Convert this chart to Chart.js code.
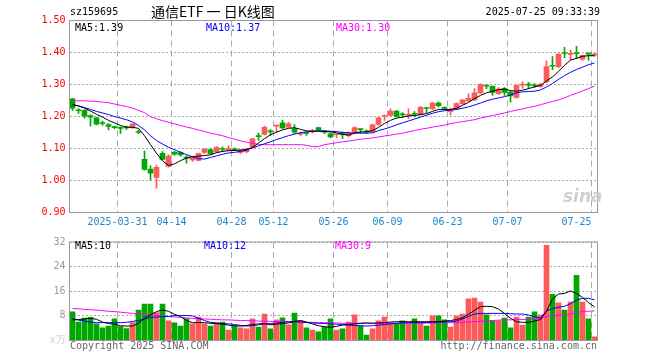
<!DOCTYPE html>
<html>
<head>
<meta charset="utf-8">
<script src="https://cdn.jsdelivr.net/npm/chart.js@4.4.1/dist/chart.umd.min.js"></script>
<style>
body { margin: 0; background: #fff; width: 660px; height: 360px; overflow: hidden; position: relative; }
canvas { position: absolute; left: 0; }
#k { top: 0; }
#v { top: 232px; }
.t { position: absolute; font: 10px "DejaVu Sans Mono", monospace; line-height: 12px; white-space: nowrap; z-index: 2; }
</style>
</head>
<body>
<canvas id="k" width="660" height="232"></canvas>
<canvas id="v" width="660" height="128"></canvas>

<div class="t" style="left:70px;top:6px;">sz159695</div>
<div class="t" style="left:151px;top:2px;font:14px 'Noto Sans CJK SC';line-height:18px;">通信ETF 一 日K线图</div>
<div class="t" style="right:60px;top:6px;">2025-07-25 09:33:39</div>

<div class="t" style="left:75px;top:22px;color:#000;">MA5:1.39</div>
<div class="t" style="left:206px;top:22px;color:#0000ff;">MA10:1.37</div>
<div class="t" style="left:336px;top:22px;color:#ff00ff;">MA30:1.30</div>

<div class="t" style="left:75px;top:240px;color:#000;">MA5:10</div>
<div class="t" style="left:204px;top:240px;color:#0000ff;">MA10:12</div>
<div class="t" style="left:335px;top:240px;color:#ff00ff;">MA30:9</div>

<div class="t" style="left:563px;top:186px;font:italic bold 17px 'DejaVu Sans';line-height:20px;color:#cfcfcf;z-index:1;">sina</div>

<div class="t" style="left:70px;top:340px;color:#666;">Copyright 2025 SINA.COM</div>
<div class="t" style="right:63px;top:340px;color:#666;">http://finance.sina.com.cn</div>

<script>
// date ticks (bar index -> label)
const tickIdx = [0, 8, 17, 27, 34, 44, 53, 63, 73, 87];
const tickLabels = ['', '2025-03-31', '04-14', '04-28', '05-12', '05-26', '06-09', '06-23', '07-07', '07-25'];

// daily K line, 2025-03-19 .. 2025-07-25
const openP = [1.255, 1.220, 1.219, 1.203, 1.196, 1.181, 1.175, 1.168, 1.166, 1.166,
    1.165, 1.153, 1.066, 1.036, 1.010, 1.085, 1.044, 1.088, 1.087, 1.072,
    1.064, 1.063, 1.088, 1.097, 1.089, 1.099, 1.095, 1.098, 1.088, 1.090,
    1.104, 1.139, 1.144, 1.155, 1.170, 1.180, 1.167, 1.162, 1.145, 1.149,
    1.152, 1.165, 1.153, 1.146, 1.143, 1.150, 1.140, 1.150, 1.161, 1.155,
    1.152, 1.175, 1.200, 1.203, 1.217, 1.207, 1.204, 1.209, 1.206, 1.228,
    1.224, 1.242, 1.229, 1.216, 1.224, 1.240, 1.249, 1.252, 1.274, 1.297,
    1.294, 1.271, 1.287, 1.276, 1.260, 1.298, 1.300, 1.298, 1.294, 1.309,
    1.359, 1.356, 1.400, 1.394, 1.398, 1.379, 1.397, 1.392];
const highP = [1.257, 1.225, 1.222, 1.205, 1.198, 1.186, 1.178, 1.170, 1.168, 1.170,
    1.178, 1.158, 1.092, 1.046, 1.048, 1.090, 1.080, 1.092, 1.090, 1.078,
    1.075, 1.086, 1.100, 1.099, 1.106, 1.105, 1.108, 1.101, 1.097, 1.101,
    1.132, 1.148, 1.170, 1.159, 1.173, 1.188, 1.182, 1.175, 1.152, 1.153,
    1.160, 1.167, 1.156, 1.149, 1.147, 1.152, 1.152, 1.168, 1.161, 1.158,
    1.176, 1.198, 1.205, 1.224, 1.219, 1.212, 1.224, 1.215, 1.232, 1.229,
    1.244, 1.246, 1.230, 1.226, 1.243, 1.254, 1.271, 1.287, 1.302, 1.298,
    1.296, 1.290, 1.290, 1.279, 1.299, 1.308, 1.307, 1.303, 1.303, 1.374,
    1.387, 1.397, 1.416, 1.408, 1.419, 1.393, 1.398, 1.398];
const lowP = [1.219, 1.210, 1.195, 1.170, 1.174, 1.172, 1.158, 1.162, 1.147, 1.160,
    1.163, 1.146, 1.032, 1.001, 0.976, 1.064, 1.042, 1.078, 1.076, 1.054,
    1.060, 1.061, 1.085, 1.082, 1.087, 1.090, 1.093, 1.093, 1.083, 1.086,
    1.102, 1.125, 1.142, 1.141, 1.151, 1.162, 1.165, 1.146, 1.140, 1.141,
    1.148, 1.155, 1.146, 1.134, 1.134, 1.131, 1.136, 1.148, 1.147, 1.147,
    1.150, 1.172, 1.188, 1.200, 1.198, 1.197, 1.193, 1.200, 1.204, 1.211,
    1.222, 1.229, 1.222, 1.205, 1.222, 1.238, 1.247, 1.250, 1.272, 1.287,
    1.266, 1.269, 1.266, 1.245, 1.257, 1.288, 1.288, 1.290, 1.292, 1.306,
    1.346, 1.352, 1.384, 1.377, 1.381, 1.375, 1.375, 1.388];
const closeP = [1.226, 1.218, 1.201, 1.198, 1.176, 1.178, 1.169, 1.165, 1.163, 1.164,
    1.176, 1.150, 1.035, 1.023, 1.041, 1.066, 1.076, 1.082, 1.080, 1.070,
    1.072, 1.084, 1.098, 1.084, 1.104, 1.097, 1.100, 1.096, 1.095, 1.098,
    1.130, 1.137, 1.166, 1.152, 1.172, 1.164, 1.177, 1.151, 1.147, 1.147,
    1.154, 1.157, 1.151, 1.136, 1.146, 1.144, 1.150, 1.165, 1.159, 1.152,
    1.174, 1.196, 1.203, 1.217, 1.200, 1.205, 1.207, 1.207, 1.229, 1.225,
    1.242, 1.234, 1.225, 1.222, 1.240, 1.252, 1.257, 1.274, 1.300, 1.295,
    1.275, 1.286, 1.275, 1.264, 1.297, 1.300, 1.298, 1.296, 1.301, 1.356,
    1.357, 1.395, 1.397, 1.397, 1.396, 1.391, 1.395, 1.393];

// price moving averages as drawn
const ma5 = [1.237, 1.233, 1.226, 1.217, 1.207, 1.198, 1.188, 1.180, 1.172, 1.167,
    1.166, 1.163, 1.140, 1.112, 1.085, 1.062, 1.047, 1.052, 1.062, 1.070,
    1.075, 1.076, 1.078, 1.080, 1.087, 1.091, 1.093, 1.094, 1.095, 1.097,
    1.103, 1.117, 1.131, 1.143, 1.151, 1.158, 1.163, 1.165, 1.160, 1.155,
    1.154, 1.154, 1.153, 1.152, 1.149, 1.144, 1.142, 1.148, 1.152, 1.152,
    1.156, 1.166, 1.178, 1.188, 1.195, 1.198, 1.202, 1.203, 1.206, 1.209,
    1.216, 1.222, 1.222, 1.222, 1.226, 1.235, 1.244, 1.256, 1.266, 1.274,
    1.279, 1.284, 1.286, 1.281, 1.279, 1.282, 1.287, 1.293, 1.297, 1.311,
    1.324, 1.341, 1.360, 1.376, 1.382, 1.388, 1.390, 1.390];
const ma10 = [1.237, 1.233, 1.228, 1.222, 1.216, 1.211, 1.206, 1.200, 1.195, 1.190,
    1.183, 1.172, 1.158, 1.140, 1.125, 1.114, 1.104, 1.096, 1.088, 1.081,
    1.074, 1.068, 1.067, 1.072, 1.077, 1.082, 1.086, 1.088, 1.091, 1.095,
    1.102, 1.108, 1.115, 1.121, 1.128, 1.134, 1.140, 1.145, 1.149, 1.152,
    1.154, 1.155, 1.155, 1.154, 1.153, 1.150, 1.149, 1.148, 1.148, 1.148,
    1.149, 1.156, 1.161, 1.167, 1.174, 1.180, 1.186, 1.192, 1.198, 1.204,
    1.210, 1.215, 1.218, 1.220, 1.222, 1.226, 1.230, 1.236, 1.242, 1.249,
    1.254, 1.258, 1.262, 1.267, 1.274, 1.277, 1.278, 1.279, 1.283, 1.292,
    1.303, 1.316, 1.328, 1.338, 1.347, 1.354, 1.362, 1.367];
const ma30 = [1.249, 1.249, 1.249, 1.248, 1.247, 1.245, 1.243, 1.239, 1.235, 1.231,
    1.226, 1.219, 1.212, 1.199, 1.193, 1.187, 1.182, 1.177, 1.172, 1.167,
    1.163, 1.158, 1.153, 1.148, 1.144, 1.140, 1.134, 1.129, 1.124, 1.120,
    1.116, 1.113, 1.112, 1.112, 1.112, 1.112, 1.112, 1.112, 1.112, 1.110,
    1.106, 1.106, 1.112, 1.115, 1.118, 1.121, 1.123, 1.126, 1.129, 1.131,
    1.133, 1.136, 1.139, 1.142, 1.145, 1.148, 1.152, 1.156, 1.160, 1.163,
    1.167, 1.170, 1.173, 1.178, 1.181, 1.184, 1.187, 1.190, 1.195, 1.199,
    1.203, 1.207, 1.211, 1.216, 1.220, 1.224, 1.228, 1.232, 1.237, 1.242,
    1.247, 1.252, 1.258, 1.266, 1.273, 1.280, 1.287, 1.295];

// volume (x万) and its averages
const volume = [9.3, 6.0, 7.3, 7.5, 5.4, 4.1, 4.7, 7.0, 4.5, 3.9,
    5.8, 9.9, 11.8, 11.8, 9.1, 11.8, 6.4, 5.7, 4.7, 7.1,
    5.4, 7.6, 5.4, 4.7, 5.7, 6.0, 3.4, 4.7, 4.1, 3.8,
    7.0, 4.4, 8.6, 3.8, 6.7, 7.4, 5.1, 8.9, 6.4, 4.1,
    3.4, 2.8, 4.4, 7.0, 3.4, 3.8, 6.0, 8.3, 4.7, 1.8,
    3.8, 6.4, 7.6, 5.7, 5.4, 6.4, 5.7, 7.0, 5.7, 4.7,
    8.0, 8.0, 6.7, 4.4, 8.0, 8.6, 13.5, 13.8, 12.5, 8.3,
    6.4, 6.4, 7.3, 4.1, 7.6, 5.0, 7.6, 9.3, 8.3, 30.9,
    15.0, 12.2, 9.9, 12.5, 21.2, 12.5, 7.0, 1.2];
const volMa5 = [6.7, 6.8, 7.0, 7.2, 6.9, 6.0, 5.5, 5.3, 4.8, 4.7,
    4.7, 5.6, 7.2, 8.3, 9.4, 9.9, 9.5, 8.5, 7.8, 6.5,
    5.8, 5.8, 5.8, 5.6, 5.5, 5.3, 5.0, 4.8, 4.7, 4.9,
    5.2, 5.4, 5.5, 5.1, 5.3, 5.5, 5.7, 6.2, 6.5, 6.0,
    5.4, 4.8, 4.5, 4.3, 4.6, 5.0, 5.2, 5.4, 5.6, 5.7,
    5.6, 5.7, 5.8, 6.0, 6.1, 6.1, 6.1, 6.1, 6.1, 6.1,
    6.1, 6.1, 6.3, 6.5, 6.8, 7.4, 8.5, 9.8, 11.0, 11.1,
    11.0, 10.2, 8.8, 7.2, 6.1, 5.9, 5.9, 6.3, 6.8, 9.5,
    13.5, 15.1, 15.3, 16.1, 15.3, 14.0, 12.3, 10.9];
const volMa10 = [7.2, 6.6, 6.3, 6.0, 5.8, 5.8, 5.8, 5.8, 5.8, 5.9,
    6.2, 6.5, 7.0, 7.5, 7.6, 7.8, 7.8, 8.1, 8.1, 8.1,
    8.0, 7.2, 6.5, 5.9, 5.7, 5.5, 5.4, 5.2, 4.9, 4.7,
    4.8, 5.1, 5.4, 5.5, 5.7, 5.9, 6.1, 6.1, 6.0, 5.8,
    5.7, 5.6, 5.5, 5.4, 5.3, 5.2, 5.0, 4.9, 4.8, 4.7,
    4.8, 5.0, 5.2, 5.4, 5.6, 5.7, 5.8, 5.8, 5.8, 5.8,
    5.9, 6.0, 6.0, 6.1, 6.3, 7.0, 7.8, 8.6, 8.8, 8.8,
    8.8, 8.8, 8.8, 8.7, 8.6, 8.6, 8.3, 7.8, 7.3, 9.6,
    10.4, 10.8, 11.1, 12.0, 13.1, 13.7, 13.7, 13.2];
const volMa30 = [10.4, 10.3, 10.1, 10.0, 9.9, 9.7, 9.5, 9.4, 9.2, 9.0,
    8.8, 8.7, 8.5, 8.3, 8.2, 8.0, 7.8, 7.7, 7.5, 7.3,
    7.2, 7.1, 7.0, 6.9, 6.8, 6.7, 6.7, 6.6, 6.5, 6.5,
    6.4, 6.3, 6.3, 6.2, 6.2, 6.1, 6.1, 6.0, 6.0, 5.9,
    5.9, 5.8, 5.8, 5.8, 5.7, 5.6, 5.6, 5.6, 5.6, 5.6,
    5.6, 5.6, 5.6, 5.6, 5.6, 5.6, 5.7, 5.7, 5.7, 5.7,
    5.7, 5.7, 5.8, 5.8, 5.8, 5.9, 6.0, 6.1, 6.2, 6.4,
    6.5, 6.6, 6.7, 6.7, 6.8, 6.8, 6.9, 7.0, 7.1, 7.8,
    8.0, 8.2, 8.4, 8.6, 9.1, 9.4, 9.5, 9.6];

const RED = '#ff5a5a';
const GREEN = '#00a800';
const GRID = '#aaaaaa';

Chart.defaults.animation = false;
Chart.defaults.font.family = "'DejaVu Sans Mono', monospace";
Chart.defaults.font.size = 10;
Chart.defaults.plugins.legend.display = false;
Chart.defaults.plugins.tooltip.enabled = false;

const xs = closeP.map((c, i) => i + 0.5);
const barColor = closeP.map((c, i) => c >= openP[i] ? RED : GREEN);

function pts(arr) {
    return arr.map((v, i) => ({ x: xs[i], y: v }));
}

function maLine(arr, color) {
    return {
        type: 'line',
        data: pts(arr),
        borderColor: color,
        borderWidth: 1,
        pointRadius: 0,
        tension: 0,
        order: 0
    };
}

// gray frame round the plot area
const frame = {
    id: 'frame',
    afterDraw(chart) {
        const a = chart.chartArea;
        const ctx = chart.ctx;
        ctx.save();
        ctx.strokeStyle = '#999';
        ctx.lineWidth = 1;
        ctx.strokeRect(a.left, a.top, a.right - a.left, a.bottom - a.top);
        ctx.restore();
    }
};

function xAxis(showLabels) {
    return {
        type: 'linear',
        min: 0,
        max: 88,
        offset: false,
        afterBuildTicks: (scale) => {
            scale.ticks = tickIdx.map(v => ({ value: v }));
        },
        afterFit: (scale) => { scale.height = 19.5; },
        ticks: {
            autoSkip: false,
            maxRotation: 0,
            align: 'inner',
            padding: 4,
            color: '#1a88d0',
            callback: (v) => showLabels ? tickLabels[tickIdx.indexOf(v)] : ''
        },
        grid: {
            drawTicks: false,
            offset: false,
            color: (ctx) => ctx.tick && ctx.tick.value === 0 ? 'rgba(0,0,0,0)' : GRID
        },
        border: { display: false, dash: [6, 4] }
    };
}

new Chart(document.getElementById('k'), {
    type: 'bar',
    data: {
        datasets: [
            maLine(ma5, '#000000'),
            maLine(ma10, '#0000ff'),
            maLine(ma30, '#ff00ff'),
            {
                data: xs.map((x, i) => ({ x: x, y: [openP[i], closeP[i]] })),
                backgroundColor: barColor,
                barThickness: 5,
                minBarLength: 1,
                grouped: false,
                order: 1
            },
            {
                data: xs.map((x, i) => ({ x: x, y: [lowP[i], highP[i]] })),
                backgroundColor: barColor,
                barThickness: 1,
                grouped: false,
                order: 2
            }
        ]
    },
    options: {
        responsive: false,
        layout: { padding: { top: 20.5, right: 62.5, left: 0, bottom: 0 } },
        scales: {
            x: xAxis(true),
            y: {
                min: 0.9,
                max: 1.5,
                afterFit: (scale) => { scale.width = 69.5; },
                ticks: {
                    stepSize: 0.1,
                    padding: 4,
                    color: '#ff0000',
                    callback: (v) => v.toFixed(2)
                },
                grid: { drawTicks: false, color: GRID },
                border: { display: false, dash: [2, 2] }
            }
        }
    },
    plugins: [frame]
});

new Chart(document.getElementById('v'), {
    type: 'bar',
    data: {
        datasets: [
            maLine(volMa5, '#000000'),
            maLine(volMa10, '#0000ff'),
            maLine(volMa30, '#ff00ff'),
            {
                data: xs.map((x, i) => ({ x: x, y: volume[i] })),
                backgroundColor: barColor,
                barThickness: 5,
                grouped: false,
                order: 1
            }
        ]
    },
    options: {
        responsive: false,
        layout: { padding: { top: 8.5, right: 62.5, left: 0, bottom: 0 } },
        scales: {
            x: xAxis(false),
            y: {
                min: 0,
                max: 32,
                afterFit: (scale) => { scale.width = 69.5; },
                ticks: {
                    stepSize: 8,
                    padding: 4,
                    color: (ctx) => ctx.tick && ctx.tick.value === 0 ? '#cccccc' : '#999999',
                    callback: (v) => v === 0 ? 'x万' : v
                },
                grid: { drawTicks: false, color: GRID },
                border: { display: false, dash: [2, 2] }
            }
        }
    },
    plugins: [frame]
});
</script>
</body>
</html>
